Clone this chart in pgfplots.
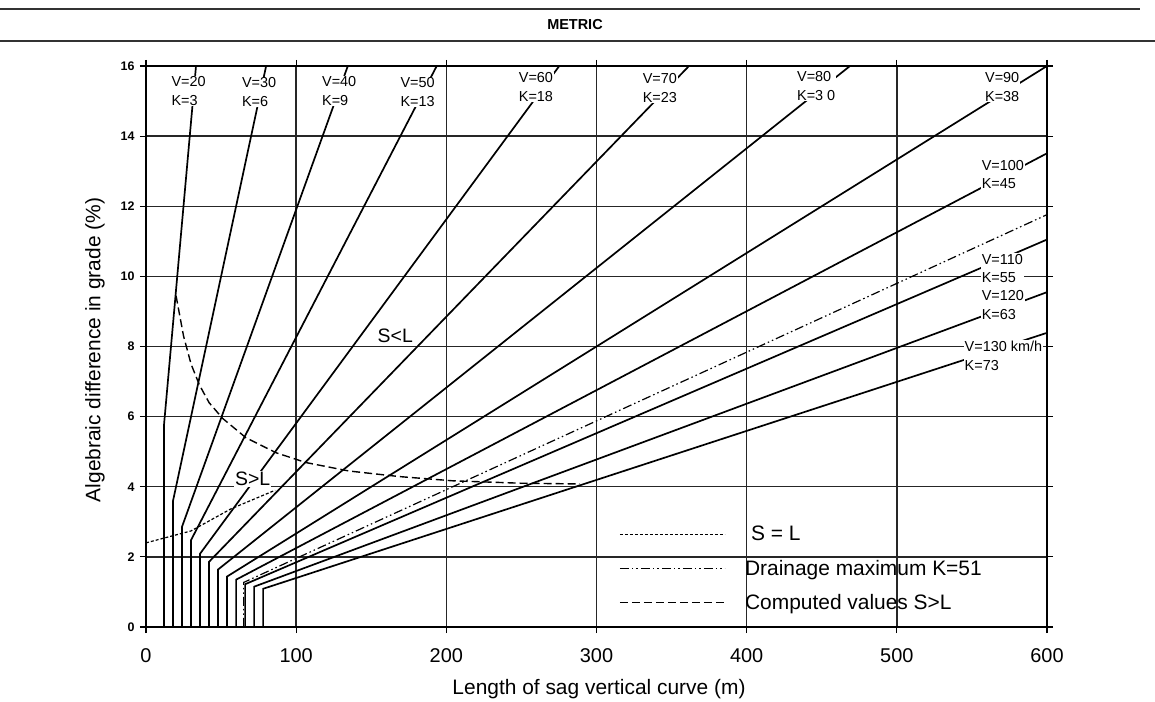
\documentclass[border=0pt]{standalone}
\usepackage{fontspec}
\setmainfont{Liberation Sans}
\usepackage{pgfplots}
\pgfplotsset{compat=1.18}
\newcommand{\labfont}{\fontsize{14.5}{18.5}\selectfont}
\begin{document}
\begin{tikzpicture}
\useasboundingbox (0bp,0bp) rectangle (1155bp,702bp);
% header
\draw[line width=2.4bp, black!80] (0bp,693bp) -- (1140bp,693bp);
\node[font=\bfseries\fontsize{14.5}{16}\selectfont] at (575bp,677bp) {METRIC};
\draw[line width=2.4bp, black!80] (0bp,661bp) -- (1155bp,661bp);
\begin{axis}[
  at={(146bp,75bp)}, anchor=south west,
  scale only axis, width=901bp, height=561bp,
  xmin=0, xmax=600, ymin=0, ymax=16,
  xtick={0,100,...,600}, ytick={0,2,...,16},
  grid=major, major grid style={line width=1.4bp, black!85},
  axis line style={line width=1.6bp, black},
  tick align=outside, major tick length=6bp,
  tick style={line width=1.2bp, black},
  /pgf/number format/assume math mode=true,
  xticklabel style={font=\fontsize{20}{22}\selectfont, yshift=-12bp},
  yticklabel style={font=\bfseries\fontsize{12.5}{14}\selectfont, xshift=-2bp},
  clip mode=individual,
  legend cell align=left,
  legend image code/.code={\draw[#1] (0bp,0bp) -- (105bp,0bp);},
  legend style={at={(axis cs:315,2.92)}, anchor=north west, draw=none, fill=none,
    font=\fontsize{21}{24}\selectfont, row sep=14.5bp, column sep=18bp,
    inner sep=0pt, nodes={inner sep=1.5bp}},
]
% design speed curves: vertical at minimum length, then L = K A
\addplot[black, line width=1.7bp, forget plot] coordinates {(12,0) (12,5.77) (33.3,16)};
\addplot[black, line width=1.7bp, forget plot] coordinates {(18,0) (18,3.6) (80,16)};
\addplot[black, line width=1.7bp, forget plot] coordinates {(24,0) (24,2.86) (134.4,16)};
\addplot[black, line width=1.7bp, forget plot] coordinates {(30,0) (30,2.48) (193.6,16)};
\addplot[black, line width=1.7bp, forget plot] coordinates {(36,0) (36,2.09) (275.2,16)};
\addplot[black, line width=1.7bp, forget plot] coordinates {(42,0) (42,1.86) (361.6,16)};
\addplot[black, line width=1.7bp, forget plot] coordinates {(48,0) (48,1.64) (468.8,16)};
\addplot[black, line width=1.7bp, forget plot] coordinates {(54,0) (54,1.44) (600,16)};
\addplot[black, line width=1.7bp, forget plot] coordinates {(60,0) (60,1.35) (600,13.51)};
\addplot[black, line width=1.7bp, forget plot] coordinates {(66,0) (66,1.22) (600,11.05)};
\addplot[black, line width=1.7bp, forget plot] coordinates {(72,0) (72,1.15) (600,9.55)};
\addplot[black, line width=1.7bp, forget plot] coordinates {(78,0) (78,1.09) (600,8.39)};
% S = L
\addplot[black, line width=1.2bp, dash pattern=on 3bp off 2bp] coordinates {(0,2.4) (30,2.74) (56.6,3.37) (86,3.9)};
\addlegendentry{\hspace*{6bp}S = L}
% drainage maximum K=51
\addplot[black, line width=1.2bp, dash pattern=on 9bp off 3bp on 1.5bp off 3bp on 1.5bp off 3bp] coordinates {(65,0) (65,1.27) (600,11.76)};
\addlegendentry{Drainage maximum K=51}
% computed values S>L
\addplot[black, line width=1.4bp, dash pattern=on 8bp off 4bp] coordinates {(20,9.45) (25,8.3) (30,7.5) (35.6,6.9) (42,6.4) (51,5.95) (66.5,5.4) (86.6,4.97) (106.5,4.69) (135,4.45) (168.7,4.29) (204,4.17) (250,4.1) (289,4.08)};
\addlegendentry{Computed values S>L}
% labels
\tikzset{lab/.style={fill=white, inner sep=1bp, anchor=west, align=left, font=\labfont}}
\node[lab] at (axis cs:16.2,15.29) {V=20\\K=3};
\node[lab] at (axis cs:63.2,15.26) {V=30\\K=6};
\node[lab] at (axis cs:116.5,15.29) {V=40\\K=9};
\node[lab] at (axis cs:168.7,15.26) {V=50\\K=13};
\node[lab] at (axis cs:247.5,15.40) {V=60\\K=18};
\node[lab] at (axis cs:330,15.37) {V=70\\K=23};
\node[lab] at (axis cs:432.8,15.43) {V=80\\K=3 0};
\node[lab] at (axis cs:558,15.40) {V=90\\K=38};
\node[lab] at (axis cs:555.8,12.90) {V=100\\K=45};
\node[lab] at (axis cs:555.8,10.23) {V=110\\K=55};
\node[lab] at (axis cs:555.8,9.18) {V=120\\K=63};
\node[lab] at (axis cs:544.4,7.73) {V=130 km/h\\K=73};
\node[fill=white, inner sep=1bp, font=\fontsize{19.5}{22}\selectfont] at (axis cs:166,8.3) {S<L};
\node[fill=white, inner sep=1bp, font=\fontsize{19.5}{22}\selectfont] at (axis cs:71,4.23) {S>L};
\end{axis}
\node[rotate=90, font=\fontsize{21}{24}\selectfont] at (95bp,352bp) {Algebraic difference in grade (\%)};
\node[font=\fontsize{21}{24}\selectfont] at (599bp,13bp) {Length of sag vertical curve (m)};
\end{tikzpicture}
\end{document}
